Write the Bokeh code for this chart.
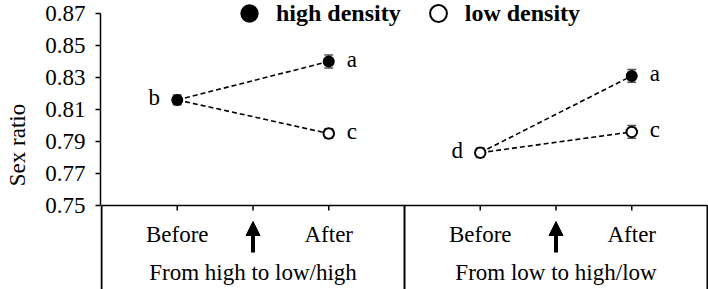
from bokeh.plotting import figure
from bokeh.models import (Range1d, FixedTicker, PrintfTickFormatter, Whisker, TeeHead,
                          ColumnDataSource, Legend, LegendItem, Arrow, NormalHead)
from bokeh.core.properties import value
from bokeh.embed import file_html
from bokeh.resources import INLINE

# ---------------- data ----------------
groups = ["From high to low/high", "From low to high/low"]
phase_labels = ["Before", "After"]
before_x = [1, 5]
after_x = [3, 7]
switch_x = [2, 6]
panel_edges = [0, 4, 8]
before_val = [0.816, 0.783]
before_err = [0.003, 0.003]
before_density = ["high", "low"]
before_letters = ["b", "d"]
after_high = [0.840, 0.831]
after_high_err = [0.004, 0.004]
after_high_letters = ["a", "a"]
after_low = [0.795, 0.796]
after_low_err = [0.003, 0.004]
after_low_letters = ["c", "c"]
yticks = [0.75, 0.77, 0.79, 0.81, 0.83, 0.85, 0.87]
series_names = ["high density", "low density"]

# ---------------- geometry ----------------
W, H = 708, 289
FONT = "Liberation Serif"
FS = "23px"
y_lo, y_hi = yticks[0], yticks[-1]
px_top, px_base = 13, 205          # canvas px of y_hi and y_lo
ypp = (y_hi - y_lo) / (px_base - px_top)
y_start = y_lo - (H - px_base) * ypp
y_end = y_hi + px_top * ypp
xpu = 75.75
x_start = -1 / xpu
x_end = panel_edges[-1] + 1 / xpu

p = figure(width=W, height=H, output_backend="svg", toolbar_location=None, tools="",
           x_range=Range1d(x_start, x_end), y_range=Range1d(y_start, y_end),
           x_axis_location=None, min_border_left=100, min_border_right=0,
           min_border_top=0, min_border_bottom=0)
p.outline_line_color = None
p.xgrid.visible = False
p.ygrid.visible = False

ax = p.yaxis[0]
ax.bounds = (y_lo, y_hi)
ax.ticker = FixedTicker(ticks=yticks)
ax.formatter = PrintfTickFormatter(format="%.2f")
ax.minor_tick_line_color = None
ax.major_tick_in = 0
ax.major_tick_out = 5
ax.axis_line_width = 1.5
ax.major_tick_line_width = 1.5
ax.axis_line_color = "black"
ax.major_tick_line_color = "black"
ax.major_label_text_font = FONT
ax.major_label_text_font_size = FS
ax.major_label_text_color = "black"
ax.major_label_standoff = 10
ax.axis_label = "Sex ratio"
ax.axis_label_text_font = FONT
ax.axis_label_text_font_size = FS
ax.axis_label_text_font_style = "normal"
ax.axis_label_text_color = "black"
ax.axis_label_standoff = 12

# ---------------- table below ----------------
p.segment(x0=[panel_edges[0]], y0=[y_lo], x1=[panel_edges[-1]], y1=[y_lo],
          line_color="black", line_width=1.5)
p.segment(x0=panel_edges, y0=[y_start] * 3, x1=panel_edges, y1=[y_lo] * 3,
          line_color="black", line_width=2)
tick_x = before_x + switch_x + after_x
p.segment(x0=tick_x, y0=[y_lo] * len(tick_x), x1=tick_x, y1=[y_lo - 5 * ypp] * len(tick_x),
          line_color="black", line_width=1.5)
p.text(x=before_x + after_x, y=[y_lo] * 4,
       text=[phase_labels[0]] * 2 + [phase_labels[1]] * 2,
       y_offset=28.5, text_align="center", text_baseline="middle",
       text_font=value(FONT), text_font_size=FS, text_color="black")
p.text(x=switch_x, y=[y_lo] * 2, text=groups, y_offset=67,
       text_align="center", text_baseline="middle",
       text_font=value(FONT), text_font_size=FS, text_color="black")
for sx in switch_x:
    p.add_layout(Arrow(x_start=sx, y_start=y_lo - 47 * ypp, x_end=sx, y_end=y_lo - 16 * ypp,
                       line_width=4, line_color="black",
                       end=NormalHead(size=14, fill_color="black", line_color="black")))

# ---------------- lines ----------------
p.segment(x0=before_x, y0=before_val, x1=after_x, y1=after_high,
          line_color="black", line_width=1.6, line_dash="5 3")
p.segment(x0=before_x, y0=before_val, x1=after_x, y1=after_low,
          line_color="black", line_width=1.6, line_dash="5 3")

# ---------------- error bars ----------------
all_x = before_x + after_x + after_x
all_y = before_val + after_high + after_low
all_e = before_err + after_high_err + after_low_err
err_src = ColumnDataSource(dict(base=all_x,
                                upper=[v + e for v, e in zip(all_y, all_e)],
                                lower=[v - e for v, e in zip(all_y, all_e)]))
p.add_layout(Whisker(source=err_src, base="base", upper="upper", lower="lower",
                     line_color="#555555", line_width=1.5,
                     upper_head=TeeHead(size=9, line_color="#555555", line_width=1.5),
                     lower_head=TeeHead(size=9, line_color="#555555", line_width=1.5)))

# ---------------- points ----------------
hi_x = [x for x, d in zip(before_x, before_density) if d == "high"] + after_x
hi_y = [v for v, d in zip(before_val, before_density) if d == "high"] + after_high
lo_x = [x for x, d in zip(before_x, before_density) if d == "low"] + after_x
lo_y = [v for v, d in zip(before_val, before_density) if d == "low"] + after_low
r_hi = p.scatter(hi_x, hi_y, size=10.5, marker="circle", fill_color="black",
                 line_color="black", line_width=1.5)
r_lo = p.scatter(lo_x, lo_y, size=10.5, marker="circle", fill_color="white",
                 line_color="black", line_width=2)

# ---------------- letters ----------------
p.text(x=before_x, y=before_val, text=before_letters, x_offset=-23, y_offset=-2,
       text_align="center", text_baseline="middle",
       text_font=value(FONT), text_font_size=FS, text_color="black")
p.text(x=after_x + after_x, y=after_high + after_low,
       text=after_high_letters + after_low_letters, x_offset=23, y_offset=-2,
       text_align="center", text_baseline="middle",
       text_font=value(FONT), text_font_size=FS, text_color="black")

# ---------------- legend ----------------
legend = Legend(items=[LegendItem(label=series_names[0], renderers=[r_hi]),
                       LegendItem(label=series_names[1], renderers=[r_lo])],
                orientation="horizontal", location=(128, 255),
                glyph_width=42, glyph_height=42, label_standoff=6, spacing=16,
                padding=0, margin=0, border_line_color=None,
                background_fill_alpha=0,
                label_text_font=FONT, label_text_font_style="bold",
                label_text_font_size="24px", label_text_color="black")
p.add_layout(legend)

open("out.html", "w").write(file_html(p, INLINE))
